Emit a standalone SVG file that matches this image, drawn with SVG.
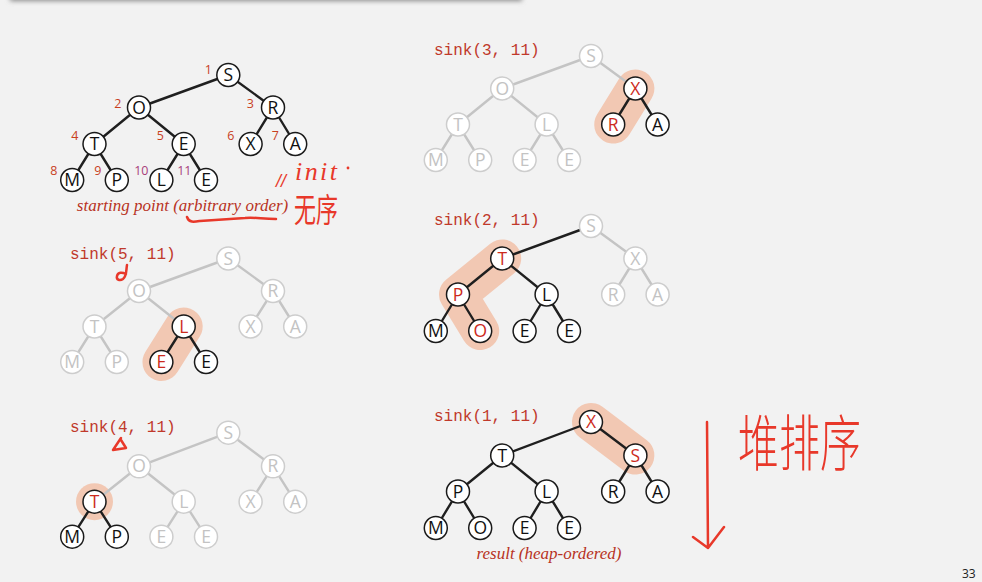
<svg xmlns="http://www.w3.org/2000/svg" width="982" height="582" viewBox="0 0 982 582">
<style>
.n{fill:#fff;stroke:#1a1a1a;stroke-width:1.5}
.g{fill:#fff;stroke:#cdcdcd;stroke-width:1.5}
.lt{font-family:"Open Sans","Noto Sans","Liberation Sans",sans-serif;font-size:17.5px;text-anchor:middle}
.k{fill:#111}
.r{fill:#cc2a1c}
.gy{fill:#c3c3c3}
.eb{stroke:#1f1f1f;stroke-width:2.4;fill:none}
.eg{stroke:#c4c4c4;stroke-width:2.4;fill:none}
.hl{stroke:#f2c8b3;stroke-width:38;stroke-linecap:round;stroke-linejoin:round;fill:none}
.idx{font-family:"Open Sans","Noto Sans",sans-serif;font-size:12.5px;fill:#c8401e;text-anchor:end}
.idp{fill:#a8407a}
.sk{font-family:"Liberation Mono","DejaVu Sans Mono",monospace;font-size:16px;fill:#c0392b}
.cap{font-family:"Liberation Serif",serif;font-style:italic;font-size:17px;fill:#b83224;text-anchor:middle}
.hw{stroke:#e8382a;stroke-width:2.5;stroke-linecap:round;stroke-linejoin:round;fill:none}
.hwt{fill:#e8382a}
</style>
<defs>
<filter id="sh" x="-5%" y="-200%" width="110%" height="500%"><feGaussianBlur stdDeviation="2.5"/></filter>
</defs>
<rect width="982" height="582" fill="#f2f2f2"/>
<rect x="10" y="-9" width="512" height="10" fill="#8a8a8a" filter="url(#sh)"/>

<g id="highlights">
<line class="hl" x1="183.7" y1="326.5" x2="161.4" y2="362"/>
<circle cx="94.5" cy="501.7" r="18.5" fill="#f2c8b3"/>
<line class="hl" x1="635.4" y1="88.5" x2="613.2" y2="124.5"/>
<polyline class="hl" points="502.2,258.5 458,294.5 480.2,331"/>
<line class="hl" x1="591" y1="422" x2="635.4" y2="455.5"/>
</g>

<g id="connectors">
<path class="eb" d="M228.3,75 L139,107.5 M228.3,75 L273,107.5 M139,107.5 L94.5,144 M139,107.5 L183.7,144 M273,107.5 L250.6,144 M273,107.5 L295.2,144 M94.5,144 L72.2,180 M94.5,144 L116.8,180 M183.7,144 L161.4,180 M183.7,144 L206,180"/>
<path class="eg" d="M228.3,258.5 L139,291 M228.3,258.5 L273,291 M139,291 L94.5,326.5 M139,291 L183.7,326.5 M273,291 L250.6,326.5 M273,291 L295.2,326.5 M94.5,326.5 L72.2,362 M94.5,326.5 L116.8,362"/>
<path class="eb" d="M183.7,326.5 L161.4,362 M183.7,326.5 L206,362"/>
<path class="eg" d="M228.3,432.7 L139,466.3 M228.3,432.7 L273,466.3 M139,466.3 L94.5,501.7 M139,466.3 L183.7,501.7 M273,466.3 L250.6,501.7 M273,466.3 L295.2,501.7 M183.7,501.7 L161.4,536.7 M183.7,501.7 L206,536.7"/>
<path class="eb" d="M94.5,501.7 L72.2,536.7 M94.5,501.7 L116.8,536.7"/>
<path class="eg" d="M591,56 L502.2,88.5 M591,56 L635.4,88.5 M502.2,88.5 L458,124.5 M502.2,88.5 L546.6,124.5 M458,124.5 L435.8,160 M458,124.5 L480.2,160 M546.6,124.5 L524.6,160 M546.6,124.5 L569,160"/>
<path class="eb" d="M635.4,88.5 L613.2,124.5 M635.4,88.5 L657.6,124.5"/>
<path class="eg" d="M591,226 L635.4,258.5 M635.4,258.5 L613.2,294.5 M635.4,258.5 L657.6,294.5"/>
<path class="eb" d="M591,226 L502.2,258.5 M502.2,258.5 L458,294.5 M502.2,258.5 L546.6,294.5 M458,294.5 L435.8,331 M458,294.5 L480.2,331 M546.6,294.5 L524.6,331 M546.6,294.5 L569,331"/>
<path class="eb" d="M591,422 L502.2,455.5 M591,422 L635.4,455.5 M502.2,455.5 L458,491.5 M502.2,455.5 L546.6,491.5 M635.4,455.5 L613.2,491.5 M635.4,455.5 L657.6,491.5 M458,491.5 L435.8,528 M458,491.5 L480.2,528 M546.6,491.5 L524.6,528 M546.6,491.5 L569,528"/>
</g>

<g id="t1-S"><circle class="n" cx="228.3" cy="75" r="11.5"/><text class="lt k" x="228.3" y="81">S</text></g>
<g id="t1-O"><circle class="n" cx="139" cy="107.5" r="11.5"/><text class="lt k" x="139" y="113.5">O</text></g>
<g id="t1-R"><circle class="n" cx="273" cy="107.5" r="11.5"/><text class="lt k" x="273" y="113.5">R</text></g>
<g id="t1-T"><circle class="n" cx="94.5" cy="144" r="11.5"/><text class="lt k" x="94.5" y="150">T</text></g>
<g id="t1-E5"><circle class="n" cx="183.7" cy="144" r="11.5"/><text class="lt k" x="183.7" y="150">E</text></g>
<g id="t1-X"><circle class="n" cx="250.6" cy="144" r="11.5"/><text class="lt k" x="250.6" y="150">X</text></g>
<g id="t1-A"><circle class="n" cx="295.2" cy="144" r="11.5"/><text class="lt k" x="295.2" y="150">A</text></g>
<g id="t1-M"><circle class="n" cx="72.2" cy="180" r="11.5"/><text class="lt k" x="72.2" y="186">M</text></g>
<g id="t1-P"><circle class="n" cx="116.8" cy="180" r="11.5"/><text class="lt k" x="116.8" y="186">P</text></g>
<g id="t1-L"><circle class="n" cx="161.4" cy="180" r="11.5"/><text class="lt k" x="161.4" y="186">L</text></g>
<g id="t1-E11"><circle class="n" cx="206" cy="180" r="11.5"/><text class="lt k" x="206" y="186">E</text></g>
<g id="t1-index">
<text class="idx" x="212" y="74">1</text>
<text class="idx" x="121.5" y="107.5">2</text>
<text class="idx" x="254" y="107.5">3</text>
<text class="idx" x="78.5" y="140">4</text>
<text class="idx" x="164" y="140">5</text>
<text class="idx" x="234.5" y="140">6</text>
<text class="idx" x="279" y="140">7</text>
<text class="idx" x="57.5" y="174.5">8</text>
<text class="idx" x="101.5" y="174.5">9</text>
<text class="idx idp" x="148.5" y="174.5">10</text>
<text class="idx idp" x="191.5" y="174.5">11</text>
</g>
<text class="cap" x="182.5" y="211">starting point (arbitrary order)</text>

<text class="sk" x="70" y="259">sink(5, 11)</text>
<g id="t2-S"><circle class="g" cx="228.3" cy="258.5" r="11.5"/><text class="lt gy" x="228.3" y="264.5">S</text></g>
<g id="t2-O"><circle class="g" cx="139" cy="291" r="11.5"/><text class="lt gy" x="139" y="297">O</text></g>
<g id="t2-R"><circle class="g" cx="273" cy="291" r="11.5"/><text class="lt gy" x="273" y="297">R</text></g>
<g id="t2-T"><circle class="g" cx="94.5" cy="326.5" r="11.5"/><text class="lt gy" x="94.5" y="332.5">T</text></g>
<g id="t2-L"><circle class="n" cx="183.7" cy="326.5" r="11.5"/><text class="lt r" x="183.7" y="332.5">L</text></g>
<g id="t2-X"><circle class="g" cx="250.6" cy="326.5" r="11.5"/><text class="lt gy" x="250.6" y="332.5">X</text></g>
<g id="t2-A"><circle class="g" cx="295.2" cy="326.5" r="11.5"/><text class="lt gy" x="295.2" y="332.5">A</text></g>
<g id="t2-M"><circle class="g" cx="72.2" cy="362" r="11.5"/><text class="lt gy" x="72.2" y="368">M</text></g>
<g id="t2-P"><circle class="g" cx="116.8" cy="362" r="11.5"/><text class="lt gy" x="116.8" y="368">P</text></g>
<g id="t2-E10"><circle class="n" cx="161.4" cy="362" r="11.5"/><text class="lt r" x="161.4" y="368">E</text></g>
<g id="t2-E11"><circle class="n" cx="206" cy="362" r="11.5"/><text class="lt k" x="206" y="368">E</text></g>

<text class="sk" x="70" y="432">sink(4, 11)</text>
<g id="t3-S"><circle class="g" cx="228.3" cy="432.7" r="11.5"/><text class="lt gy" x="228.3" y="438.7">S</text></g>
<g id="t3-O"><circle class="g" cx="139" cy="466.3" r="11.5"/><text class="lt gy" x="139" y="472.3">O</text></g>
<g id="t3-R"><circle class="g" cx="273" cy="466.3" r="11.5"/><text class="lt gy" x="273" y="472.3">R</text></g>
<g id="t3-T"><circle class="n" cx="94.5" cy="501.7" r="11.5"/><text class="lt r" x="94.5" y="507.7">T</text></g>
<g id="t3-L"><circle class="g" cx="183.7" cy="501.7" r="11.5"/><text class="lt gy" x="183.7" y="507.7">L</text></g>
<g id="t3-X"><circle class="g" cx="250.6" cy="501.7" r="11.5"/><text class="lt gy" x="250.6" y="507.7">X</text></g>
<g id="t3-A"><circle class="g" cx="295.2" cy="501.7" r="11.5"/><text class="lt gy" x="295.2" y="507.7">A</text></g>
<g id="t3-M"><circle class="n" cx="72.2" cy="536.7" r="11.5"/><text class="lt k" x="72.2" y="542.7">M</text></g>
<g id="t3-P"><circle class="n" cx="116.8" cy="536.7" r="11.5"/><text class="lt k" x="116.8" y="542.7">P</text></g>
<g id="t3-E10"><circle class="g" cx="161.4" cy="536.7" r="11.5"/><text class="lt gy" x="161.4" y="542.7">E</text></g>
<g id="t3-E11"><circle class="g" cx="206" cy="536.7" r="11.5"/><text class="lt gy" x="206" y="542.7">E</text></g>

<text class="sk" x="434" y="55">sink(3, 11)</text>
<g id="t4-S"><circle class="g" cx="591" cy="56" r="11.5"/><text class="lt gy" x="591" y="62">S</text></g>
<g id="t4-O"><circle class="g" cx="502.2" cy="88.5" r="11.5"/><text class="lt gy" x="502.2" y="94.5">O</text></g>
<g id="t4-X"><circle class="n" cx="635.4" cy="88.5" r="11.5"/><text class="lt r" x="635.4" y="94.5">X</text></g>
<g id="t4-T"><circle class="g" cx="458" cy="124.5" r="11.5"/><text class="lt gy" x="458" y="130.5">T</text></g>
<g id="t4-L"><circle class="g" cx="546.6" cy="124.5" r="11.5"/><text class="lt gy" x="546.6" y="130.5">L</text></g>
<g id="t4-R"><circle class="n" cx="613.2" cy="124.5" r="11.5"/><text class="lt r" x="613.2" y="130.5">R</text></g>
<g id="t4-A"><circle class="n" cx="657.6" cy="124.5" r="11.5"/><text class="lt k" x="657.6" y="130.5">A</text></g>
<g id="t4-M"><circle class="g" cx="435.8" cy="160" r="11.5"/><text class="lt gy" x="435.8" y="166">M</text></g>
<g id="t4-P"><circle class="g" cx="480.2" cy="160" r="11.5"/><text class="lt gy" x="480.2" y="166">P</text></g>
<g id="t4-E10"><circle class="g" cx="524.6" cy="160" r="11.5"/><text class="lt gy" x="524.6" y="166">E</text></g>
<g id="t4-E11"><circle class="g" cx="569" cy="160" r="11.5"/><text class="lt gy" x="569" y="166">E</text></g>

<text class="sk" x="434" y="225">sink(2, 11)</text>
<g id="t5-S"><circle class="g" cx="591" cy="226" r="11.5"/><text class="lt gy" x="591" y="232">S</text></g>
<g id="t5-T"><circle class="n" cx="502.2" cy="258.5" r="11.5"/><text class="lt r" x="502.2" y="264.5">T</text></g>
<g id="t5-X"><circle class="g" cx="635.4" cy="258.5" r="11.5"/><text class="lt gy" x="635.4" y="264.5">X</text></g>
<g id="t5-P"><circle class="n" cx="458" cy="294.5" r="11.5"/><text class="lt r" x="458" y="300.5">P</text></g>
<g id="t5-L"><circle class="n" cx="546.6" cy="294.5" r="11.5"/><text class="lt k" x="546.6" y="300.5">L</text></g>
<g id="t5-R"><circle class="g" cx="613.2" cy="294.5" r="11.5"/><text class="lt gy" x="613.2" y="300.5">R</text></g>
<g id="t5-A"><circle class="g" cx="657.6" cy="294.5" r="11.5"/><text class="lt gy" x="657.6" y="300.5">A</text></g>
<g id="t5-M"><circle class="n" cx="435.8" cy="331" r="11.5"/><text class="lt k" x="435.8" y="337">M</text></g>
<g id="t5-O"><circle class="n" cx="480.2" cy="331" r="11.5"/><text class="lt r" x="480.2" y="337">O</text></g>
<g id="t5-E10"><circle class="n" cx="524.6" cy="331" r="11.5"/><text class="lt k" x="524.6" y="337">E</text></g>
<g id="t5-E11"><circle class="n" cx="569" cy="331" r="11.5"/><text class="lt k" x="569" y="337">E</text></g>

<text class="sk" x="434" y="421">sink(1, 11)</text>
<g id="t6-X"><circle class="n" cx="591" cy="422" r="11.5"/><text class="lt r" x="591" y="428">X</text></g>
<g id="t6-T"><circle class="n" cx="502.2" cy="455.5" r="11.5"/><text class="lt k" x="502.2" y="461.5">T</text></g>
<g id="t6-S"><circle class="n" cx="635.4" cy="455.5" r="11.5"/><text class="lt r" x="635.4" y="461.5">S</text></g>
<g id="t6-P"><circle class="n" cx="458" cy="491.5" r="11.5"/><text class="lt k" x="458" y="497.5">P</text></g>
<g id="t6-L"><circle class="n" cx="546.6" cy="491.5" r="11.5"/><text class="lt k" x="546.6" y="497.5">L</text></g>
<g id="t6-R"><circle class="n" cx="613.2" cy="491.5" r="11.5"/><text class="lt k" x="613.2" y="497.5">R</text></g>
<g id="t6-A"><circle class="n" cx="657.6" cy="491.5" r="11.5"/><text class="lt k" x="657.6" y="497.5">A</text></g>
<g id="t6-M"><circle class="n" cx="435.8" cy="528" r="11.5"/><text class="lt k" x="435.8" y="534">M</text></g>
<g id="t6-O"><circle class="n" cx="480.2" cy="528" r="11.5"/><text class="lt k" x="480.2" y="534">O</text></g>
<g id="t6-E10"><circle class="n" cx="524.6" cy="528" r="11.5"/><text class="lt k" x="524.6" y="534">E</text></g>
<g id="t6-E11"><circle class="n" cx="569" cy="528" r="11.5"/><text class="lt k" x="569" y="534">E</text></g>
<text class="cap" x="549" y="559">result (heap-ordered)</text>

<g id="handwriting">
<path class="hw" d="M187,217 C189,223 194,222 200,221 C215,220 230,219 245,218 C255,217 262,219 276,219"/>
<path class="hw" d="M127,265 C126,270 127,276 123,279 C120,281 116,280 117,276 C118,272 122,272 126,274"/>
<path class="hw" d="M121,438 L113,450 L126,448 L121,440"/>
<text class="hwt" x="276" y="187" font-family="Liberation Sans,sans-serif" font-style="italic" font-size="18">//</text>
<text class="hwt" x="295" y="180" font-family="Liberation Serif,serif" font-style="italic" font-size="26" textLength="42">init</text>
<circle cx="348" cy="168" r="1.4" fill="#e8382a"/>
<text class="hwt" x="294" y="222" font-family="Noto Sans CJK SC,sans-serif" font-size="22" transform="translate(0,-111) scale(1,1.5)">无序</text>
<text class="hwt" font-family="Noto Sans CJK SC,sans-serif" font-weight="300" font-size="41" transform="translate(738,466) scale(1,1.5)">堆排序</text>
<path class="hw" d="M707,422 L708,548 M693,537 L708,548 L724,527"/>
</g>
<text x="962" y="578" font-family="Open Sans,sans-serif" font-size="12" fill="#222">33</text>
</svg>
